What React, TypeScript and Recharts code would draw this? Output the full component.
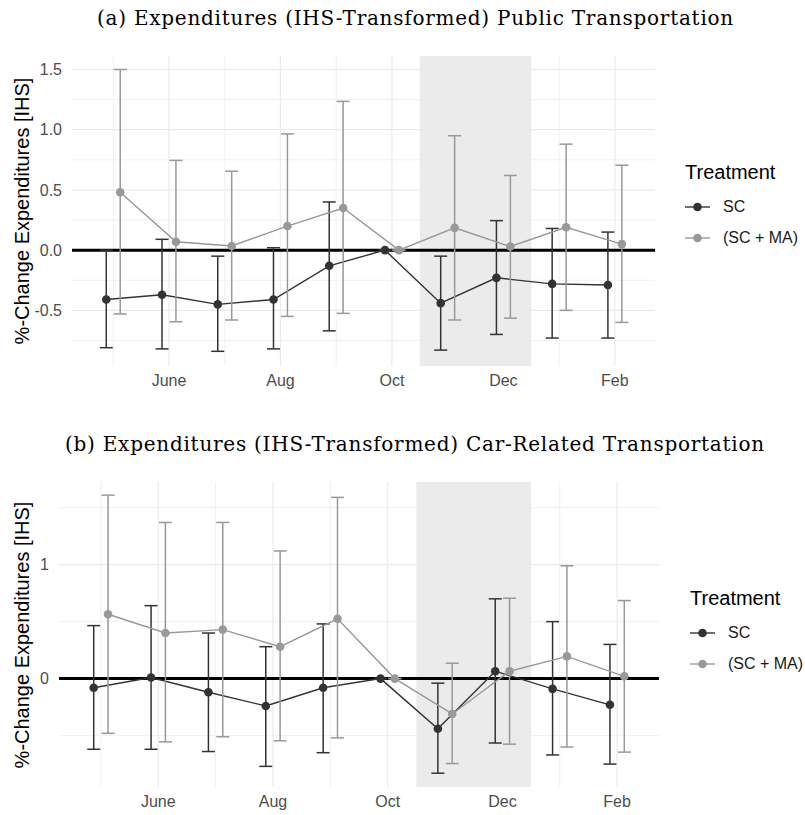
import {
  CartesianGrid,
  ComposedChart,
  ErrorBar,
  Line,
  ReferenceArea,
  ReferenceLine,
  XAxis,
  YAxis,
} from "recharts"

// months as index 0..9 (May .. Feb), Oct (5) is the reference month
const months = ["May", "June", "Jul", "Aug", "Sep", "Oct", "Nov", "Dec", "Jan", "Feb"]
const majorMonthTicks = [1, 3, 5, 7, 9]
const minorMonthTicks = [0, 2, 4, 6, 8]
const shadeStart = 5.5
const shadeEnd = 7.5
const dodge = 0.125

// (a) public transportation
const publicSC = [-0.41, -0.37, -0.45, -0.41, -0.13, 0, -0.44, -0.23, -0.28, -0.29]
const publicSCLow = [-0.81, -0.82, -0.84, -0.82, -0.67, 0, -0.83, -0.7, -0.73, -0.73]
const publicSCHigh = [0.0, 0.09, -0.05, 0.02, 0.4, 0, -0.05, 0.245, 0.18, 0.15]
const publicMA = [0.48, 0.07, 0.035, 0.2, 0.35, 0, 0.185, 0.03, 0.19, 0.05]
const publicMALow = [-0.53, -0.595, -0.58, -0.55, -0.525, 0, -0.58, -0.565, -0.5, -0.6]
const publicMAHigh = [1.5, 0.745, 0.655, 0.965, 1.235, 0, 0.95, 0.62, 0.88, 0.705]

// (b) car-related transportation
const carSC = [-0.08, 0.01, -0.12, -0.24, -0.08, 0, -0.44, 0.065, -0.09, -0.23]
const carSCLow = [-0.62, -0.62, -0.64, -0.77, -0.65, 0, -0.83, -0.565, -0.67, -0.75]
const carSCHigh = [0.465, 0.64, 0.4, 0.28, 0.48, 0, -0.04, 0.7, 0.5, 0.3]
const carMA = [0.565, 0.4, 0.43, 0.28, 0.525, 0, -0.31, 0.065, 0.195, 0.02]
const carMALow = [-0.48, -0.555, -0.51, -0.545, -0.52, 0, -0.745, -0.575, -0.6, -0.645]
const carMAHigh = [1.61, 1.37, 1.37, 1.12, 1.59, 0, 0.135, 0.705, 0.99, 0.685]

const SC_COLOR = "#333333"
const MA_COLOR = "#999999"
const SANS = "'Liberation Sans', Arial, sans-serif"
const SERIF = "'DejaVu Serif', serif"

function series(values: number[], low: number[], high: number[], shift: number) {
  return values.map((v, i) => ({
    x: i + shift,
    y: v,
    err: [v - low[i], high[i] - v],
  }))
}

interface PanelProps {
  top: number
  height: number
  title: string
  titleLeft: number
  titleTop: number
  sc: { x: number; y: number; err: number[] }[]
  ma: { x: number; y: number; err: number[] }[]
  xDomain: [number, number]
  yDomain: [number, number]
  yTicks: number[]
  yMinor: number[]
  yFormat: (v: number) => string
  marginTop: number
  marginRight: number
  axisWidth: number
  legendLeft: number
  legendTop: number
}

function LegendBlock({ left, top }: { left: number; top: number }) {
  const item = (color: string, label: string) => (
    <div style={{ display: "flex", alignItems: "center", height: 31 }}>
      <svg width={26} height={12} style={{ marginRight: 12 }}>
        <line x1={0} y1={6} x2={25} y2={6} stroke={color} strokeWidth={1.4} />
        <circle cx={12.5} cy={6} r={4.3} fill={color} />
      </svg>
      <span style={{ fontSize: 16, color: "#1a1a1a" }}>{label}</span>
    </div>
  )
  return (
    <div style={{ position: "absolute", left, top, fontFamily: SANS }}>
      <div style={{ fontSize: 20, color: "#000", marginBottom: 8, lineHeight: "22px" }}>Treatment</div>
      {item(SC_COLOR, "SC")}
      {item(MA_COLOR, "(SC + MA)")}
    </div>
  )
}

// map a data value to a pixel through the axis scale (falls back to the linear domain)
function scaleValue(axis: any, v: number, start: number, size: number, domain: [number, number], flip: boolean) {
  const s = axis && axis.scale
  if (typeof s === "function") return s(v)
  if (s && typeof s.map === "function") return s.map(v)
  const t = (v - domain[0]) / (domain[1] - domain[0])
  return flip ? start + size * (1 - t) : start + size * t
}

const gridX = (values: number[], domain: [number, number]) => (props: any) =>
  values.map((v) => scaleValue(props.xAxis, v, props.offset.left, props.offset.width, domain, false))
const gridY = (values: number[], domain: [number, number]) => (props: any) =>
  values.map((v) => scaleValue(props.yAxis, v, props.offset.top, props.offset.height, domain, true))

function Panel(p: PanelProps) {
  const plotTop = p.marginTop
  const xAxisHeight = 30
  const plotHeight = p.height - p.marginTop - xAxisHeight - 4
  return (
    <div style={{ position: "absolute", left: 0, top: p.top, width: 805, height: p.height }}>
      <div
        style={{
          position: "absolute",
          left: p.titleLeft,
          top: p.titleTop,
          fontFamily: SERIF,
          fontSize: 20,
          letterSpacing: 0.75,
          color: "#000",
          whiteSpace: "nowrap",
        }}
      >
        {p.title}
      </div>
      <div
        style={{
          position: "absolute",
          left: 22,
          top: plotTop + plotHeight / 2,
          transform: "translate(-50%, -50%) rotate(-90deg)",
          fontFamily: SANS,
          fontSize: 20,
          color: "#000",
          whiteSpace: "nowrap",
        }}
      >
        %-Change Expenditures [IHS]
      </div>
      <ComposedChart
        width={805}
        height={p.height}
        margin={{ top: p.marginTop, right: p.marginRight, bottom: 4, left: 0 }}
        style={{ position: "absolute", left: 0, top: 0 }}
      >
        <XAxis
          type="number"
          dataKey="x"
          domain={p.xDomain}
          allowDataOverflow
          ticks={majorMonthTicks}
          tickFormatter={(v: number) => months[v]}
          axisLine={false}
          tickLine={false}
          tickSize={0}
          tickMargin={9}
          height={xAxisHeight}
          tick={{ fontSize: 16, fill: "#4d4d4d", fontFamily: SANS }}
        />
        <YAxis
          type="number"
          domain={p.yDomain}
          allowDataOverflow
          ticks={p.yTicks}
          tickFormatter={p.yFormat}
          axisLine={false}
          tickLine={false}
          tickSize={0}
          tickMargin={10}
          width={p.axisWidth}
          tick={{ fontSize: 16, fill: "#4d4d4d", fontFamily: SANS }}
        />
        <CartesianGrid
          stroke="#f1f1f1"
          strokeWidth={1}
          verticalCoordinatesGenerator={gridX(minorMonthTicks, p.xDomain)}
          horizontalCoordinatesGenerator={gridY(p.yMinor, p.yDomain)}
        />
        <CartesianGrid
          stroke="#ebebeb"
          strokeWidth={1.2}
          verticalCoordinatesGenerator={gridX(majorMonthTicks, p.xDomain)}
          horizontalCoordinatesGenerator={gridY(p.yTicks, p.yDomain)}
        />
        <ReferenceArea x1={shadeStart} x2={shadeEnd} fill="#ebebeb" fillOpacity={1} stroke="none" ifOverflow="hidden" />
        <ReferenceLine y={0} stroke="#000" strokeWidth={3} />
        <Line
          data={p.sc}
          dataKey="y"
          stroke={SC_COLOR}
          strokeWidth={1.4}
          dot={{ r: 4.3, fill: SC_COLOR, stroke: SC_COLOR, strokeWidth: 0 }}
          isAnimationActive={false}
          legendType="none"
        >
          <ErrorBar dataKey="err" direction="y" width={6.5} stroke={SC_COLOR} strokeWidth={1.5} />
        </Line>
        <Line
          data={p.ma}
          dataKey="y"
          stroke={MA_COLOR}
          strokeWidth={1.4}
          dot={{ r: 4.3, fill: MA_COLOR, stroke: MA_COLOR, strokeWidth: 0 }}
          isAnimationActive={false}
          legendType="none"
        >
          <ErrorBar dataKey="err" direction="y" width={6.5} stroke={MA_COLOR} strokeWidth={1.5} />
        </Line>
      </ComposedChart>
      <LegendBlock left={p.legendLeft} top={p.legendTop} />
    </div>
  )
}

export default function App() {
  return (
    <div style={{ position: "absolute", left: 0, top: 0, width: 805, height: 815, background: "#fff" }}>
      <Panel
        top={0}
        height={400}
        title="(a) Expenditures (IHS-Transformed) Public Transportation"
        titleLeft={97}
        titleTop={6}
        sc={series(publicSC, publicSCLow, publicSCHigh, -dodge)}
        ma={series(publicMA, publicMALow, publicMAHigh, dodge)}
        xDomain={[-0.74, 9.72]}
        yDomain={[-0.962, 1.612]}
        yTicks={[-0.5, 0, 0.5, 1, 1.5]}
        yMinor={[-0.75, -0.25, 0.25, 0.75, 1.25]}
        yFormat={(v) => v.toFixed(1)}
        marginTop={56}
        marginRight={150}
        axisWidth={72}
        legendLeft={685}
        legendTop={161}
      />
      <Panel
        top={420}
        height={401}
        title="(b) Expenditures (IHS-Transformed) Car-Related Transportation"
        titleLeft={65}
        titleTop={12}
        sc={series(carSC, carSCLow, carSCHigh, -dodge)}
        ma={series(carMA, carMALow, carMAHigh, dodge)}
        xDomain={[-0.73, 9.73]}
        yDomain={[-0.951, 1.725]}
        yTicks={[0, 1]}
        yMinor={[-0.5, 0.5, 1.5]}
        yFormat={(v) => String(v)}
        marginTop={62}
        marginRight={146}
        axisWidth={59}
        legendLeft={690}
        legendTop={167}
      />
    </div>
  )
}
